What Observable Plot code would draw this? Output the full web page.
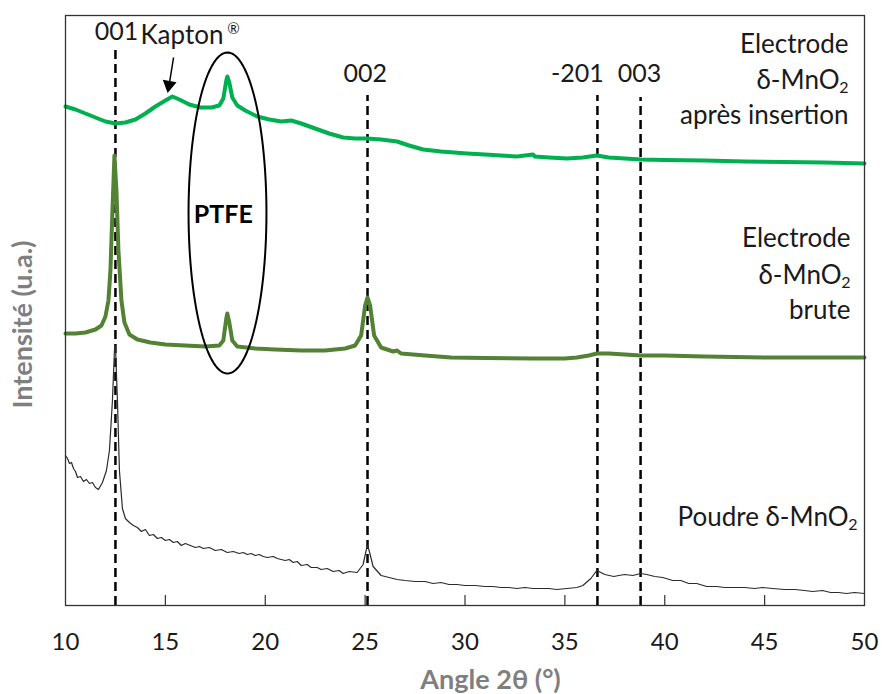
<!DOCTYPE html>
<html>
<head>
<meta charset="utf-8">
<script src="https://cdn.jsdelivr.net/npm/d3@7"></script>
<script src="https://cdn.jsdelivr.net/npm/@observablehq/plot@0.6"></script>
<style>
  body { margin: 0; background: #fff; }
  #chart svg { font-family: Lato, "Open Sans", sans-serif; }
</style>
</head>
<body>
<div id="chart"></div>
<script>
// ---- Data (2θ in degrees, intensity in arbitrary units) ----
const xTicks = [10, 15, 20, 25, 30, 35, 40, 45, 50];

const insertionAngle = [10.0,10.5,11.0,11.5,12.0,12.5,13.0,13.5,14.0,14.5,15.0,15.35,15.7,16.2,16.75,17.3,17.7,17.9,18.05,18.1,18.2,18.35,18.6,19.0,19.6,20.2,20.8,21.3,21.8,22.5,23.2,23.9,24.5,25.1,25.8,26.6,27.2,27.9,28.8,30.1,31.0,31.8,32.6,33.4,33.5,34.2,35.1,35.9,36.6,37.2,38.0,38.8,40,42,44,46,48,50];
const insertionInt   = [499,496,492,488,484,482,483,486,492,499,505,509,506,501,498,498,500,507,525,529,523,508,500,495,489,486,484,485,482,477,472,468,467,467,466,464,460,456,454,452,451,450,449,451,449,448,447,448,450,448,447,446,445.5,445,444,443.5,443,442];

const bruteAngle = [10.0,10.5,11.0,11.5,11.8,12.0,12.15,12.25,12.35,12.45,12.55,12.65,12.8,12.95,13.2,13.6,14.25,15.0,16.0,17.0,17.7,17.9,18.05,18.1,18.2,18.35,18.6,19.5,20.5,21.8,23.0,24.0,24.5,24.8,25.0,25.12,25.25,25.45,25.8,26.4,26.6,26.8,28.0,29.3,31.0,33.4,35.0,35.6,36.2,36.6,37.2,38.0,38.8,40,42,45,48.3,50];
const bruteInt   = [272,272,273,276,280,289,305,335,395,450,415,355,305,283,271,266,263,261,260,259,260,265,287,292,283,265,259,257,256,255,255,257,260,270,300,308,300,270,258,254,255,252,250,248,247.5,247,247,248,250,252,252,251,250,250,249,248,248,248];

const poudreAngle = [10.0,10.1,10.2,10.3,10.4,10.5,10.6,10.75,10.9,11.05,11.2,11.35,11.5,11.65,11.85,12.05,12.2,12.35,12.45,12.5,12.6,12.7,12.85,13.0,13.2,13.4,13.6,13.8,14.0,14.2,14.4,14.6,14.8,15.0,15.2,15.4,15.6,15.8,16.0,16.25,16.5,16.7,16.9,17.2,17.5,17.8,18.1,18.4,18.7,18.9,19.1,19.3,19.5,19.7,19.9,20.1,20.4,20.6,20.8,21.0,21.2,21.4,21.6,21.8,22.1,22.3,22.6,22.8,23.1,23.4,23.7,23.9,24.2,24.6,24.9,25.05,25.12,25.2,25.4,25.8,26.2,26.6,27.0,27.5,28.0,28.4,28.8,29.2,29.6,30.0,30.5,31.0,31.4,31.8,32.2,32.6,33.0,33.4,33.8,34.2,34.6,35.1,35.6,35.9,36.3,36.6,37.0,37.45,37.7,38.0,38.4,38.8,39.1,39.5,39.9,40.4,40.8,41.2,41.6,42.1,42.6,43.0,43.5,44.0,44.5,44.9,45.4,46.0,46.5,47.0,47.4,47.9,48.3,48.7,49.1,49.5,50.0];
const poudreInt   = [150,147,142,143,137,134,128,129,124,126,122,123,118,116,123,135,155,205,255,260,205,135,97,87,83,80,78,74,76,70,71,67,68,65,66,63,64,60,62,60,58,59,57,58,55,56,53,54,52,53,51,52,50,51,49,48,49,47,46,45,46,43,44,40,41,38,38,36,37,34,35,32,34,33,41,55,60,55,39,30,28,26,25,24,24,22,23,21,21,20,20,19,19,18,18,17,18,17,17,17,16,17,18,20,27,35,31,29,30,31,30,32,31,29,28,25,25,22,22,19,19,18,18,18,17,18,17,16,16,15,14,15,13,13,12,13,12];

const peakAngles = [12.5, 25.12, 36.63, 38.79];
const peakTops   = [555, 510, 510, 508];
const peakLabels = ["001", "002", "-201", "003"];
const labelAngles = [12.55, 25.0, 35.63, 38.74];
const labelInts   = [574, 532, 532, 532];

// ---- Build tables ----
const toRows = (xs, ys, s) => xs.map((x, i) => ({angle: x, intensity: ys[i], series: s}));
const insertion = toRows(insertionAngle, insertionInt, "insertion");
const brute = toRows(bruteAngle, bruteInt, "brute");
const poudre = toRows(poudreAngle, poudreInt, "poudre");
const peaks = peakAngles.map((a, i) => ({angle: a, top: peakTops[i]}));
const peakText = peakLabels.map((t, i) => ({label: t, angle: labelAngles[i], intensity: labelInts[i]}));

// PTFE ellipse annotation (shape, not data)
const ell = {cx: 18.11, cy: 392.5, rx: 1.95, ry: 160.5};
const ellipse = d3.range(0, 2 * Math.PI + 0.01, Math.PI / 60).map(t => ({
  angle: ell.cx + ell.rx * Math.cos(t), intensity: ell.cy + ell.ry * Math.sin(t)
}));

const textColor = "#1a1a1a";
const fs = 26;

const plot = Plot.plot({
  width: 882,
  height: 694,
  marginLeft: 65,
  marginRight: 18,
  marginTop: 15,
  marginBottom: 89,
  x: {domain: [10, 50], axis: null},
  y: {domain: [0, 590], axis: null},
  style: {fontFamily: "Lato, 'Open Sans', sans-serif", background: "#fff"},
  marks: [
    // inward ticks
    Plot.ruleX(xTicks.slice(1, -1), {y1: 0, y2: 10, stroke: "#333", strokeWidth: 1.2}),
    Plot.text(xTicks, {x: d => d, y: 0, dy: 37, text: d => String(d), fontSize: 24, fill: textColor}),
    // dashed peak lines
    Plot.ruleX(peaks, {x: "angle", y1: 0, y2: "top", stroke: "#000", strokeWidth: 2.5, strokeDasharray: "9,5"}),
    // curves
    Plot.line(poudre, {x: "angle", y: "intensity", stroke: "#2b2b2b", strokeWidth: 1.2}),
    Plot.line(brute, {x: "angle", y: "intensity", stroke: "#548235", strokeWidth: 4}),
    Plot.line(insertion, {x: "angle", y: "intensity", stroke: "#00b050", strokeWidth: 4}),
    // ellipse + PTFE
    Plot.line(ellipse, {x: "angle", y: "intensity", stroke: "#000", strokeWidth: 2}),
    Plot.text(["PTFE"], {x: 17.9, y: 391, text: d => d, fontSize: 25, fontWeight: "bold", fill: "#000"}),
    // Kapton arrow
    Plot.link([{x1: 15.41, y1: 548, x2: 15.2, y2: 522}], {x1: "x1", y1: "y1", x2: "x2", y2: "y2", stroke: "#000", strokeWidth: 1.5}),
    Plot.dot([{x: 15.18, y: 520.5}], {x: "x", y: "y", symbol: "triangle", r: 5.2, fill: "#000", stroke: "none", rotate: 189.5}),
    Plot.text(["Kapton"], {x: 13.75, y: 570, text: d => d, fontSize: 26, textAnchor: "start", fill: textColor}),
    Plot.text(["®"], {x: 18.0, y: 576, text: d => d, fontSize: 15, dx: 2, textAnchor: "start", fill: textColor}),
    // peak labels
    Plot.text(peakText, {x: "angle", y: "intensity", text: "label", fontSize: 25, fill: textColor}),
    // series labels (right aligned)
    Plot.text(["Electrode", "après insertion"], {x: 50, y: [561, 490], text: d => d, dx: -16, textAnchor: "end", fontSize: fs, fill: textColor}),
    Plot.text(["δ-MnO"], {x: 50, y: [525], text: d => d, dx: -25, textAnchor: "end", fontSize: fs, fill: textColor}),
    Plot.text(["2"], {x: 50, y: [518], text: d => d, dx: -16, textAnchor: "end", fontSize: 16, fill: textColor}),
    Plot.text(["Electrode", "brute"], {x: 50, y: [367, 295], text: d => d, dx: -14, textAnchor: "end", fontSize: fs, fill: textColor}),
    Plot.text(["δ-MnO"], {x: 50, y: [330], text: d => d, dx: -23, textAnchor: "end", fontSize: fs, fill: textColor}),
    Plot.text(["2"], {x: 50, y: [323], text: d => d, dx: -14, textAnchor: "end", fontSize: 16, fill: textColor}),
    Plot.text(["Poudre δ-MnO"], {x: 50, y: [88], text: d => d, dx: -16, textAnchor: "end", fontSize: fs, fill: textColor}),
    Plot.text(["2"], {x: 50, y: [81], text: d => d, dx: -7, textAnchor: "end", fontSize: 16, fill: textColor}),
    // axis titles
    Plot.text(["Angle 2θ (°)"], {x: 31.28, y: -75, text: d => d, fontSize: 27, fontWeight: "bold", fill: "#7f7f7f"}),
    Plot.text(["Intensité (u.a.)"], {x: 10, y: 281, dx: -42, rotate: -90, text: d => d, fontSize: 27, fontWeight: "bold", fill: "#7f7f7f"}),
    Plot.frame({stroke: "#333", strokeWidth: 1.3})
  ]
});
document.getElementById("chart").appendChild(plot);
</script>
</body>
</html>
